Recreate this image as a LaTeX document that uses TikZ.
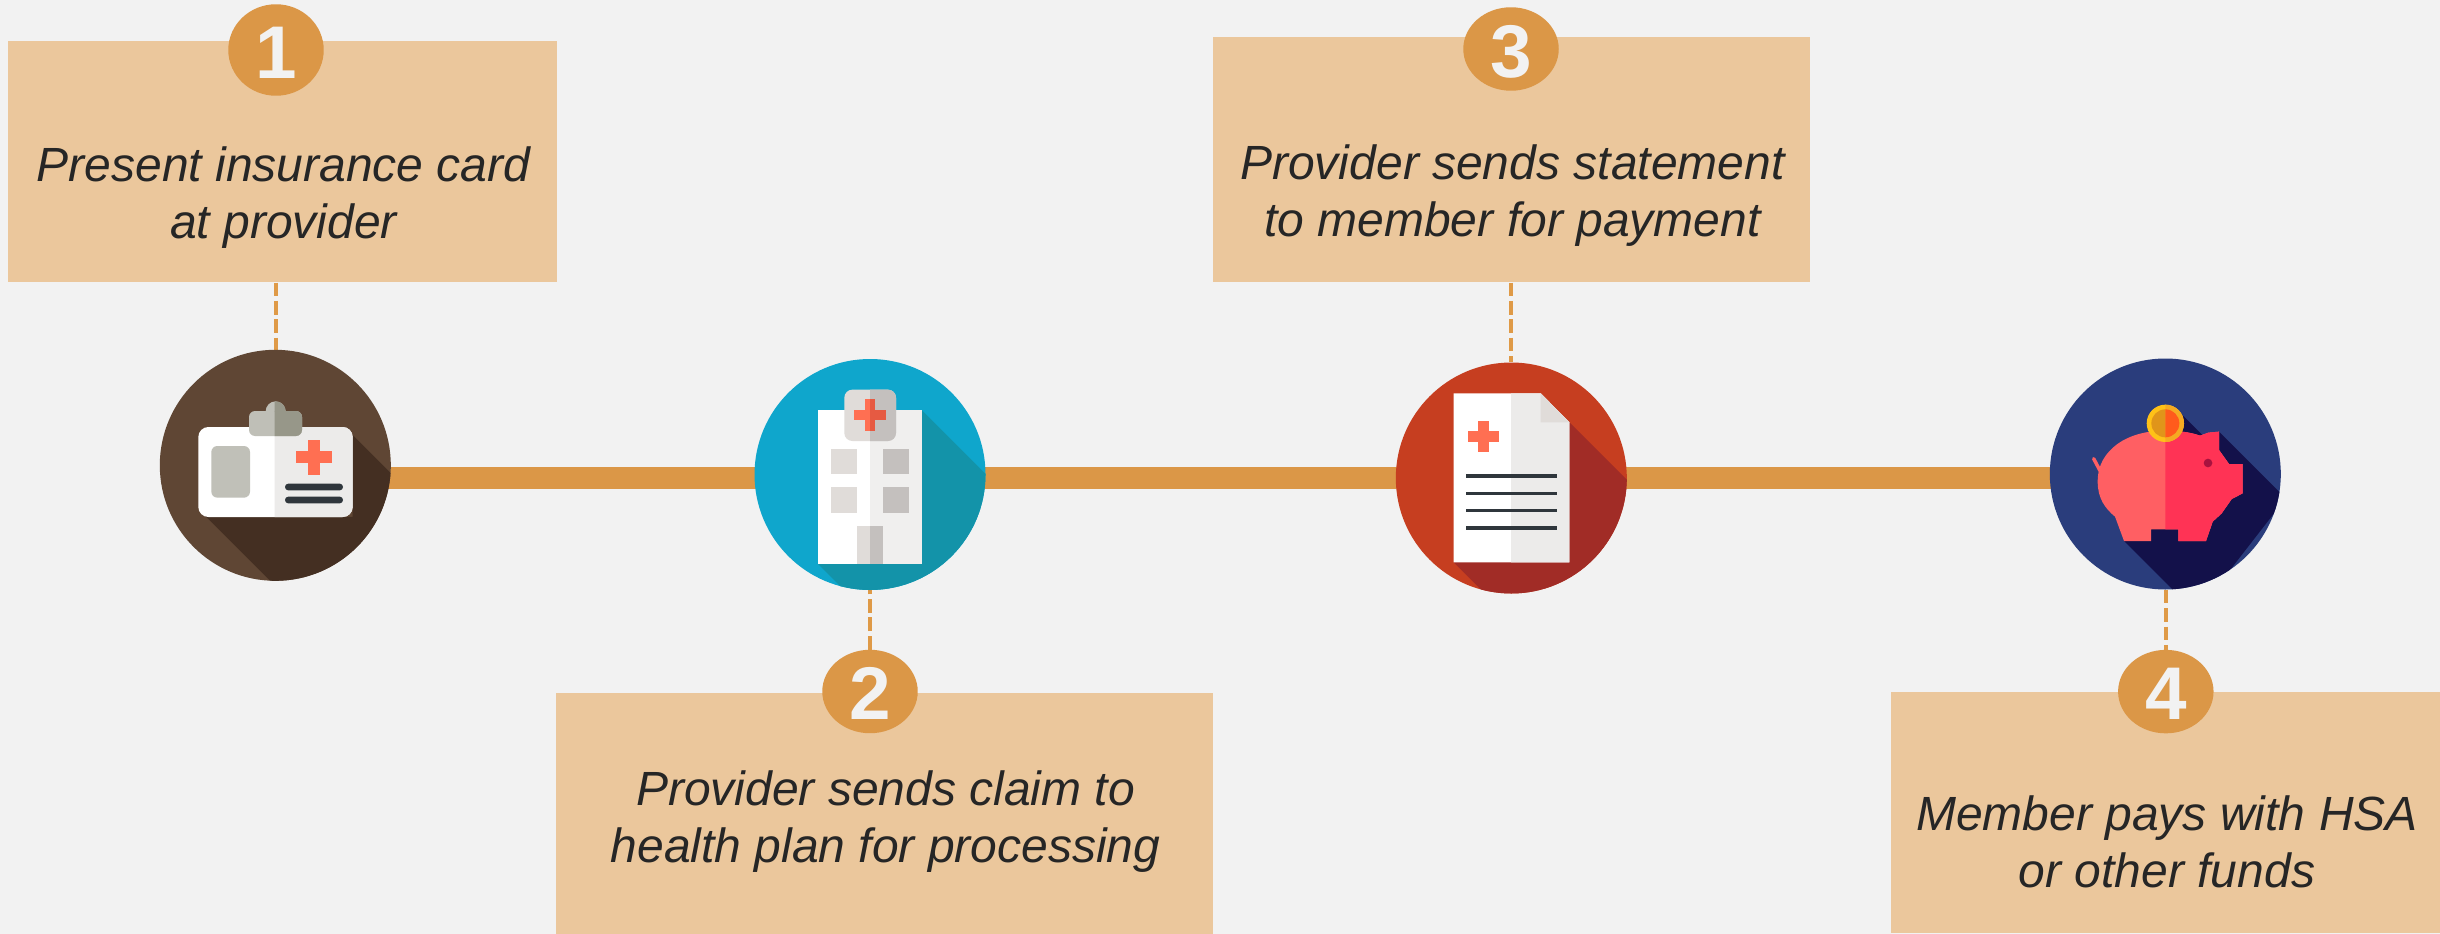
\documentclass[tikz,border=0pt]{standalone}
\usepackage{fontspec}
\setmainfont{Liberation Sans}
\usetikzlibrary{shapes.geometric}
\definecolor{pagebg}{HTML}{F2F2F2}
\definecolor{boxfill}{HTML}{EBC79C}
\definecolor{accent}{HTML}{DB9747}
\definecolor{dashc}{HTML}{DF9A47}
\definecolor{ink}{HTML}{262626}
\definecolor{brownbg}{HTML}{5F4634}
\definecolor{brownsh}{HTML}{442F22}
\definecolor{bluebg}{HTML}{0FA6CC}
\definecolor{bluesh}{HTML}{1393A9}
\definecolor{redbg}{HTML}{C63E20}
\definecolor{redsh}{HTML}{A12C26}
\definecolor{navybg}{HTML}{2A3D7C}
\definecolor{navysh}{HTML}{13114A}
\definecolor{halfgrey}{HTML}{ECEBEA}
\definecolor{lgrey}{HTML}{E0DCD9}
\definecolor{rgrey}{HTML}{C4C0BE}
\definecolor{crossc}{HTML}{FF6F52}
\definecolor{crossd}{HTML}{E65A42}
\definecolor{darkline}{HTML}{2F363C}
\definecolor{pigl}{HTML}{FF5F63}
\definecolor{pigr}{HTML}{FF3355}
\tikzset{
  textbox/.style={fill=boxfill,draw=none,inner sep=0pt,anchor=north west},
  disc/.style={circle,draw=none,inner sep=0pt,minimum size=173.2pt},
  badge/.style={ellipse,fill=accent,draw=none,inner sep=0pt,minimum width=71.6pt,minimum height=62.6pt,text=pagebg,text height=42.2pt,text depth=0pt,font=\fontsize{56}{56}\selectfont\bfseries},
  caption/.style={text=ink,align=center,anchor=base,inner sep=0pt,font=\fontsize{36}{42.75}\selectfont\itshape},
  barline/.style={accent,line width=16.5pt},
  dashline/.style={dashc,line width=3.3pt,dash pattern=on 10.3pt off 3.5pt},
  icon/.style={scale=1/3}
}
\def\pigpath{(405,272) .. controls (440,272) and (480,276) .. (510,287) -- (535,278) -- (567,275) -- (567,330) -- (597,372) -- (638,372) -- (638,460) -- (605,477) -- (575,520) -- (548,545) -- (528,603) -- (445,603) -- (445,568) -- (363,568) -- (363,603) -- (282,603) -- (255,530) .. controls (225,505) and (203,475) .. (203,425) .. controls (203,375) and (225,340) .. (262,312) .. controls (300,285) and (350,272) .. (405,272) -- cycle}
\begin{document}
\begin{tikzpicture}[x=0.75pt,y=-0.75pt]
\useasboundingbox (0,0) rectangle (2440,934);
\fill[pagebg] (0,0) rectangle (2440,934);

% connecting bar, beneath the discs
\coordinate (by) at (0,477.8);
\node[disc] (c1) at (275.3,465.3) {};
\node[disc] (c2) at (870,474.5) {};
\node[disc] (c3) at (1511.3,478) {};
\node[disc] (c4) at (2165.3,474) {};
\draw[barline] (c1 |- by) -- (c2 |- by);
\draw[barline] (c2 |- by) -- (c3 |- by);
\draw[barline] (c3 |- by) -- (c4 |- by);

% boxes
\node[textbox,minimum width=411.75pt,minimum height=180.75pt] (b1) at (8,41) {};
\node[textbox,minimum width=492.75pt,minimum height=181.5pt] (b2) at (556,693) {};
\node[textbox,minimum width=447.75pt,minimum height=183.75pt] (b3) at (1213,37) {};
\node[textbox,minimum width=411.75pt,minimum height=180.75pt] (b4) at (1891,692) {};

% badges
\node[badge,minimum height=68.6pt] (n1) at (276,50) {1};
\node[badge] (n2) at (870,691.5) {2};
\node[badge] (n3) at (1511,49) {3};
\node[badge] (n4) at (2165.8,691.6) {4};

% dashed leaders
\draw[dashline] (b1.south -| n1) -- (c1.north -| n1);
\draw[dashline] (n2.north) -- (c2.south);
\draw[dashline] (b3.south -| n3) -- (c3.north -| n3);
\draw[dashline] (c4.south -| n4) -- (n4.north);

% captions
\node[caption] (t1) at (283.5,238.5) {Present insurance card\\at provider};
\node[caption] (t2) at (885.5,862.5) {Provider sends claim to\\health plan for processing};
\node[caption] (t3) at (1512.4,236.2) {Provider sends statement\\to member for payment};
\node[caption] (t4) at (2167,887.8) {Member pays with HSA\\or other funds};

% ---------- icon 1
\fill[brownbg] (c1.center) circle (115.5);
\begin{scope}
\clip (c1.center) circle (115.5);
\begin{scope}[shift={(140,330)},icon]
\fill[brownsh] (638,315) -- (1238,915) -- (795,1157) -- (195,557) -- (638,561) -- cycle;
\end{scope}
\end{scope}
\begin{scope}[shift={(140,330)},icon]
\fill[white,rounded corners=7.5pt] (175,291) rectangle (638,561);
\begin{scope}
\clip (404,200) rectangle (700,600);
\fill[halfgrey,rounded corners=7.5pt] (175,291) rectangle (638,561);
\end{scope}
\fill[color={rgb,255:red,191;green,191;blue,183},rounded corners=4.5pt] (327,243) rectangle (486,318);
\fill[color={rgb,255:red,191;green,191;blue,183}] (377,245) -- (377,244) arc[start angle=180,end angle=360,radius=30] -- (437,245) -- cycle;
\begin{scope}
\clip (404,200) rectangle (700,330);
\fill[color={rgb,255:red,151;green,151;blue,137},rounded corners=4.5pt] (327,243) rectangle (486,318);
\fill[color={rgb,255:red,151;green,151;blue,137}] (377,245) -- (377,244) arc[start angle=180,end angle=360,radius=30] -- (437,245) -- cycle;
\end{scope}
\fill[color={rgb,255:red,192;green,192;blue,184},rounded corners=4.5pt] (214,348) rectangle (330,503);
\fill[crossc] (469,364) rectangle (575,399);
\fill[crossc] (504,329) rectangle (540,434);
\fill[darkline,rounded corners=2.4pt] (435,461) rectangle (609,481);
\fill[darkline,rounded corners=2.4pt] (435,500) rectangle (609,520);
\end{scope}

% ---------- icon 2
\fill[bluebg] (c2.center) circle (115.5);
\begin{scope}
\clip (c2.center) circle (115.5);
\begin{scope}[shift={(740,340)},icon]
\fill[bluesh] (546,211) -- (1146,811) -- (835,1273) -- (235,673) -- cycle;
\end{scope}
\end{scope}
\begin{scope}[shift={(740,340)},icon]
\fill[white] (235,211) rectangle (546,673);
\fill[color=halfgrey!80!white] (390,211) rectangle (546,673);
\fill[lgrey,rounded corners=6pt] (313,149) rectangle (468,303);
\begin{scope}
\clip (390,100) rectangle (600,320);
\fill[rgrey,rounded corners=6pt] (313,149) rectangle (468,303);
\end{scope}
\fill[crossc] (343,210) rectangle (390,241);
\fill[crossc] (375,178) rectangle (390,273);
\fill[crossd] (390,210) rectangle (437,241);
\fill[crossd] (390,178) rectangle (406,273);
\fill[lgrey] (274,326) rectangle (352,403);
\fill[lgrey] (274,441) rectangle (352,519);
\fill[rgrey] (429,326) rectangle (507,403);
\fill[rgrey] (429,441) rectangle (507,519);
\fill[lgrey] (351,558) rectangle (390,673);
\fill[rgrey] (390,558) rectangle (429,673);
\end{scope}

% ---------- icon 3
\fill[redbg] (c3.center) circle (115.5);
\begin{scope}
\clip (c3.center) circle (115.5);
\begin{scope}[shift={(1380,340)},icon]
\fill[redsh] (568,247) -- (1168,847) -- (821,1267) -- (221,667) -- cycle;
\end{scope}
\end{scope}
\begin{scope}[shift={(1380,340)},icon]
\fill[white] (221,160) -- (482,160) -- (568,247) -- (568,667) -- (221,667) -- cycle;
\fill[halfgrey] (393,160) -- (482,160) -- (568,247) -- (568,667) -- (393,667) -- cycle;
\fill[lgrey] (482,160) -- (482,247) -- (568,247) -- cycle;
\fill[crossc] (263,274) rectangle (357,306);
\fill[crossc] (294,243) rectangle (326,337);
\foreach \ly in {408,461,512,564}{
  \fill[darkline] (259,\ly-5) rectangle (530,\ly+5);
}
\end{scope}

% ---------- icon 4
\fill[navybg] (c4.center) circle (115.5);
\begin{scope}
\clip (c4.center) circle (115.5);
\begin{scope}[shift={(2030,340)},icon]
\fill[navysh] (446,214) -- (525,293) -- (567,275) -- (767,475) -- (499,820) -- (282,603) -- cycle;
\end{scope}
\end{scope}
\begin{scope}[shift={(2030,340)},icon]
\draw[pigl,line width=2.6pt,line cap=round] (191,356) -- (210,392);
\fill[pigl] \pigpath;
\begin{scope}
\clip (406,200) rectangle (700,650);
\fill[pigr] \pigpath;
\end{scope}
\fill[color={rgb,255:red,255;green,193;blue,23}] (406,250) circle (56);
\fill[color={rgb,255:red,224;green,149;blue,26}] (406,250) circle (42);
\begin{scope}
\clip (406,180) rectangle (480,320);
\fill[color={rgb,255:red,245;green,170;blue,34}] (406,250) circle (56);
\fill[color={rgb,255:red,255;green,91;blue,28}] (406,250) circle (42);
\end{scope}
\fill[color={rgb,255:red,168;green,18;blue,63}] (534,369) circle (13);
\end{scope}
\end{tikzpicture}
\end{document}
